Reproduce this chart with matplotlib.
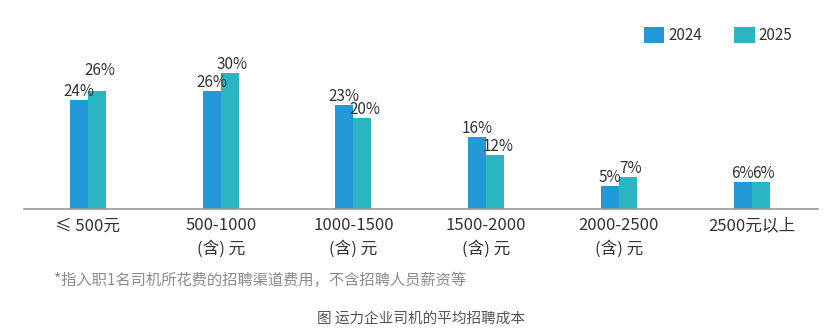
import matplotlib.pyplot as plt
import numpy as np

plt.rcParams['font.family'] = ['Noto Sans CJK SC', 'DejaVu Sans']

# data
categories = ['≤ 500元', '500-1000\n(含) 元', '1000-1500\n(含) 元',
              '1500-2000\n(含) 元', '2000-2500\n(含) 元', '2500元以上']
y2024 = [24, 26, 23, 16, 5, 6]
y2025 = [26, 30, 20, 12, 7, 6]
years = ['2024', '2025']

c24 = '#2398d6'
c25 = '#2bb4c1'

fig = plt.figure(figsize=(8.32, 3.36), dpi=100)
ax = fig.add_axes([24/832, 127/336, 794/832, 154/336])

x = np.arange(len(categories))
w = 0.136
b1 = ax.bar(x - w/2, y2024, w, color=c24, label=years[0])
b2 = ax.bar(x + w/2, y2025, w, color=c25, label=years[1])

for bar, val in zip(b1, y2024):
    ax.annotate(f'{val}%', (bar.get_x() + bar.get_width()/2, val),
                xytext=(0, 0), textcoords='offset points',
                ha='center', va='bottom', fontsize=11, color='#333333')
for i, (bar, val) in enumerate(zip(b2, y2025)):
    # first pair sits too close, lift the 2025 label
    dy = 9 if i == 0 else 0
    ax.annotate(f'{val}%', (bar.get_x() + bar.get_width()/2 + 0.02, val),
                xytext=(0, dy), textcoords='offset points',
                ha='center', va='bottom', fontsize=11, color='#333333')

ax.set_xlim(-0.482, 5.5)
ax.set_ylim(0, 34)
ax.set_xticks(x)
ax.set_xticklabels(categories, fontsize=12, color='#333333', linespacing=1.4)
ax.tick_params(axis='x', length=0, pad=6)
ax.set_yticks([])
for s in ['top', 'right', 'left']:
    ax.spines[s].set_visible(False)
ax.spines['bottom'].set_color('#999999')
ax.spines['bottom'].set_linewidth(1.2)

ax.legend(loc='upper right', bbox_to_anchor=(806/832, 1 - 13/336),
          bbox_transform=fig.transFigure, ncol=2, frameon=False,
          fontsize=11, handlelength=1.35, handleheight=1.3,
          columnspacing=2.1, handletextpad=0.25, labelcolor='#333333')

fig.text(54/832, 1 - 280/336, '*指入职1名司机所花费的招聘渠道费用，不含招聘人员薪资等',
         fontsize=11, color='#8c8c8c', va='center')
fig.text(421/832, 1 - 319/336, '图 运力企业司机的平均招聘成本',
         fontsize=10.5, color='#555555', ha='center', va='center')

fig.savefig('out.png', dpi=100)
